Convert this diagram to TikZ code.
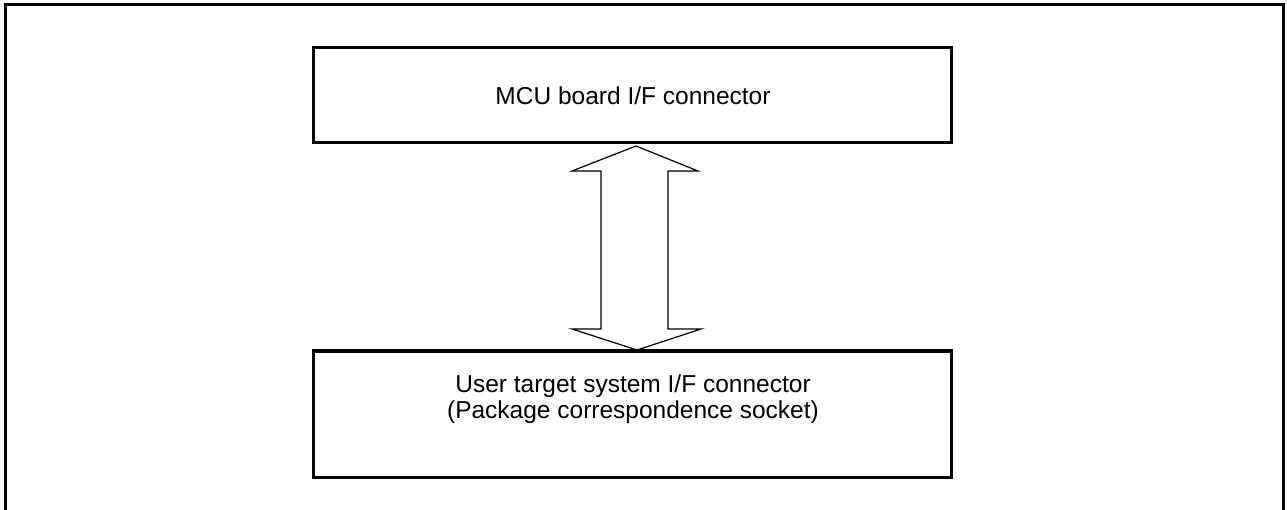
\documentclass[tikz,border=0pt]{standalone}
\usepackage{fontspec}
\setmainfont{Liberation Sans}
\begin{document}
\begin{tikzpicture}[x=1pt,y=-1pt,
  box/.style={draw,line width=3pt},
  frame/.style={line width=3pt},
  dblarrow/.style={draw,line width=1.2pt,line join=miter},
  lbl/.style={font=\fontsize{24.5}{26.5}\selectfont,align=center,inner sep=0pt}]
\useasboundingbox (0,0) rectangle (1287,510);
\draw[frame] (5,512) -- (5,5) -- (1283,5) -- (1283,512);
\draw[box] (313,48) rectangle (951,143);
\node[lbl] (top) at (633,95.5) {MCU board I/F connector};
\draw[box] (313,351) rectangle (951,477);
\node[lbl] (bot) at (633,399) {User target system I/F connector\\(Package correspondence socket)};
\coordinate (tt) at (636,146);
\coordinate (bt) at (637,350);
\draw[dblarrow] (tt) -- (698,171) -- (668,171) -- (668,329) -- (701,329) -- (bt)
  -- (572,329) -- (601,329) -- (601,171) -- (572,171) -- cycle;
\end{tikzpicture}
\end{document}
